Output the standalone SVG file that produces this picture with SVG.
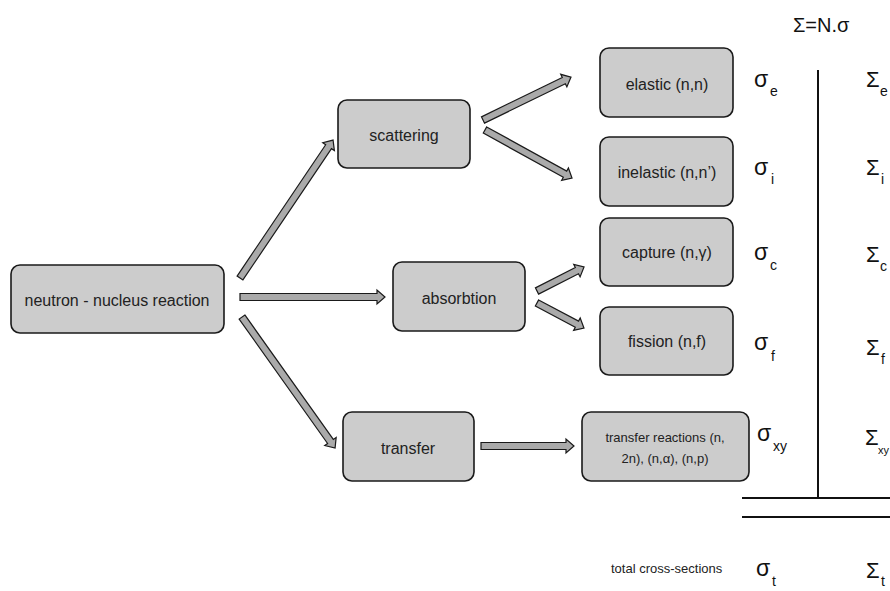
<svg xmlns="http://www.w3.org/2000/svg" width="890" height="591" viewBox="0 0 890 591">
<style>
.box{fill:#cccccc;stroke:#1a1a1a;stroke-width:1.6}
.t{font-family:"Liberation Sans",Arial,sans-serif;font-size:16px;fill:#222;text-anchor:middle}
.ts{font-family:"Liberation Sans",Arial,sans-serif;font-size:13px;fill:#222;text-anchor:middle}
.arr{fill:#aaaaaa;stroke:#1a1a1a;stroke-width:1.2;stroke-linejoin:miter}
.sg{font-family:"Liberation Sans",Arial,sans-serif;font-size:23px;fill:#111}
.SG{font-family:"Liberation Sans",Arial,sans-serif;font-size:22px;fill:#111}
.sub{font-family:"Liberation Sans",Arial,sans-serif;font-size:14px;fill:#111}
.ln{stroke:#111;stroke-width:2;fill:none}
</style>
<rect width="890" height="591" fill="#ffffff"/>

<g id="connectors">
<polygon class="arr" transform="translate(240,278) rotate(-56)" points="0,-3.5 158.4,-3.5 158.4,-7 166.4,0 158.4,7 158.4,3.5 0,3.5"/>
<polygon class="arr" transform="translate(240,297)" points="0,-3.5 137,-3.5 137,-7 145,0 137,7 137,3.5 0,3.5"/>
<polygon class="arr" transform="translate(242,317) rotate(54.6)" points="0,-3.5 152.7,-3.5 152.7,-7 160.7,0 152.7,7 152.7,3.5 0,3.5"/>
<polygon class="arr" transform="translate(483,120) rotate(-26)" points="0,-3.5 89.9,-3.5 89.9,-7 97.9,0 89.9,7 89.9,3.5 0,3.5"/>
<polygon class="arr" transform="translate(485,130) rotate(28.9)" points="0,-3.5 91.4,-3.5 91.4,-7 99.4,0 91.4,7 91.4,3.5 0,3.5"/>
<polygon class="arr" transform="translate(537,291) rotate(-27)" points="0,-3.5 44.8,-3.5 44.8,-7 52.8,0 44.8,7 44.8,3.5 0,3.5"/>
<polygon class="arr" transform="translate(537,303) rotate(28)" points="0,-3.5 45.2,-3.5 45.2,-7 53.2,0 45.2,7 45.2,3.5 0,3.5"/>
<polygon class="arr" transform="translate(481,446)" points="0,-3.5 85,-3.5 85,-7 93,0 85,7 85,3.5 0,3.5"/>
</g>

<g id="neutron">
<rect class="box" x="11" y="265" width="213" height="68" rx="9"/>
<text class="t" x="117" y="306">neutron - nucleus reaction</text>
</g>
<g id="scattering">
<rect class="box" x="338" y="100" width="132" height="68" rx="9"/>
<text class="t" x="404" y="141">scattering</text>
</g>
<g id="absorbtion">
<rect class="box" x="393" y="262" width="132" height="69" rx="9"/>
<text class="t" x="459" y="304">absorbtion</text>
</g>
<g id="transfer">
<rect class="box" x="343" y="412" width="131" height="69" rx="9"/>
<text class="t" x="408" y="454">transfer</text>
</g>
<g id="elastic">
<rect class="box" x="600" y="48" width="133" height="69" rx="9"/>
<text class="t" x="667" y="90">elastic (n,n)</text>
</g>
<g id="inelastic">
<rect class="box" x="600" y="137" width="133" height="69" rx="9"/>
<text class="t" x="667" y="178">inelastic (n,n’)</text>
</g>
<g id="capture">
<rect class="box" x="600" y="218" width="133" height="68" rx="9"/>
<text class="t" x="667" y="258">capture (n,γ)</text>
</g>
<g id="fission">
<rect class="box" x="600" y="307" width="133" height="68" rx="9"/>
<text class="t" x="667" y="347">fission (n,f)</text>
</g>
<g id="transfer-reactions">
<rect class="box" x="582" y="412" width="167" height="69" rx="9"/>
<text class="ts" x="665" y="442">transfer reactions (n,</text>
<text class="ts" x="665" y="463">2n), (n,α), (n,p)</text>
</g>

<g id="sigma-micro">
<text class="sg" x="754" y="87">σ</text><text class="sub" x="770" y="96">e</text>
<text class="sg" x="754" y="175">σ</text><text class="sub" x="771" y="184">i</text>
<text class="sg" x="754" y="260">σ</text><text class="sub" x="770" y="270">c</text>
<text class="sg" x="754" y="350">σ</text><text class="sub" x="771" y="361">f</text>
<text class="sg" x="757" y="441">σ</text><text class="sub" x="773" y="451">xy</text>
<text class="sg" x="756" y="576">σ</text><text class="sub" x="772" y="586">t</text>
</g>
<g id="sigma-macro">
<text class="sg" style="font-size:20px" x="793" y="32">Σ=N.σ</text>
<text class="SG" x="866" y="87">Σ</text><text class="sub" x="880" y="96">e</text>
<text class="SG" x="866" y="175">Σ</text><text class="sub" x="881" y="184">i</text>
<text class="SG" x="866" y="262">Σ</text><text class="sub" x="880" y="271">c</text>
<text class="SG" x="866" y="355">Σ</text><text class="sub" x="881" y="364">f</text>
<text class="SG" x="865" y="445">Σ</text><text class="sub" style="font-size:11px" x="878" y="454">xy</text>
<text class="SG" x="866" y="578">Σ</text><text class="sub" x="881" y="586">t</text>
</g>
<g id="table-lines">
<line class="ln" x1="818" y1="70" x2="818" y2="498"/>
<line class="ln" x1="742" y1="498" x2="890" y2="498"/>
<line class="ln" x1="742" y1="517" x2="890" y2="517"/>
</g>
<g id="total">
<text class="ts" style="text-anchor:start" x="611" y="573">total cross-sections</text>
</g>
</svg>
